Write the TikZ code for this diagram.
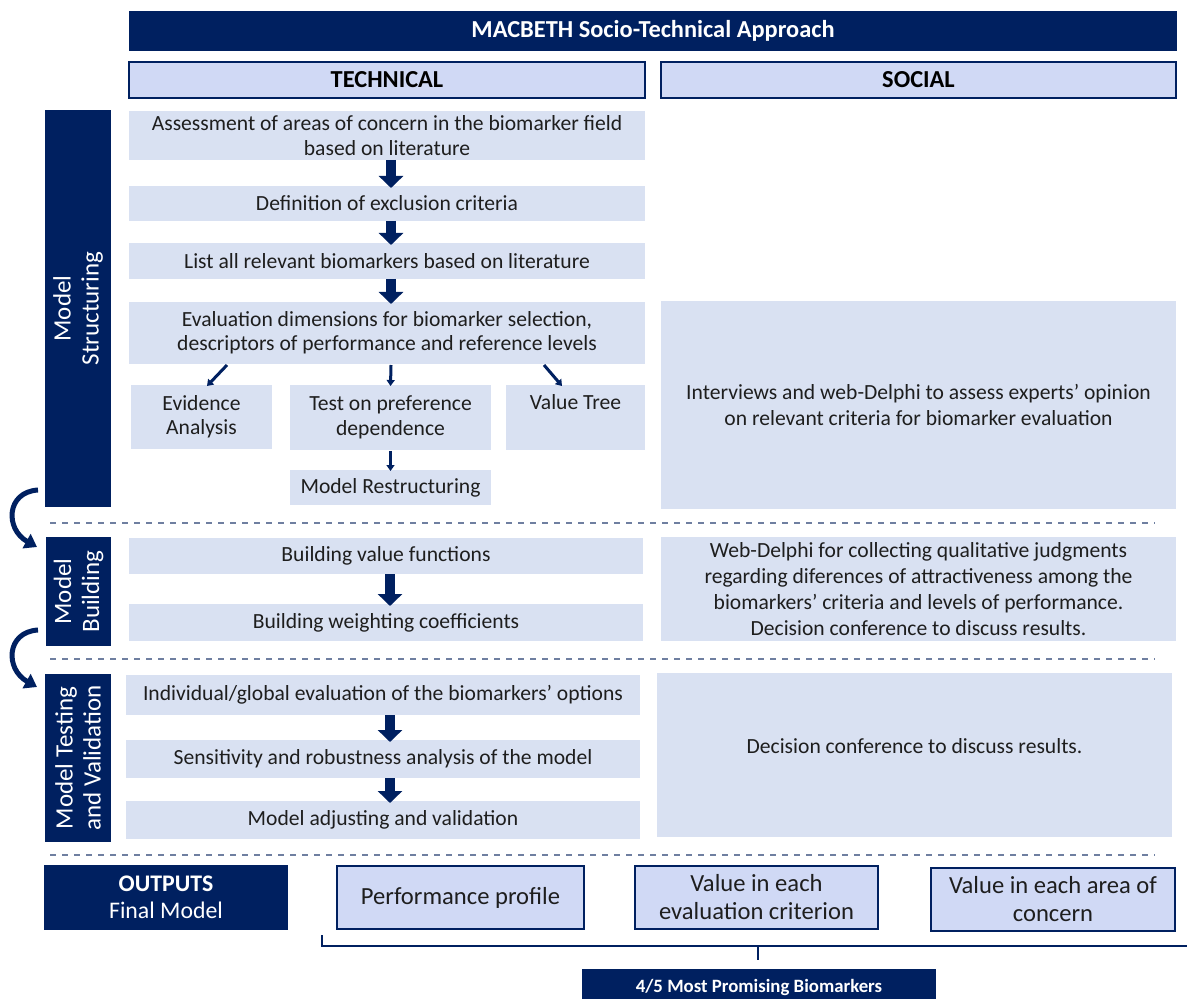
\documentclass[tikz,border=0pt]{standalone}
\usepackage{fontspec}
\setmainfont{Carlito}
\usetikzlibrary{arrows.meta,calc}
\definecolor{navy}{HTML}{002060}
\definecolor{cellfill}{HTML}{D9E1F2}
\definecolor{headfill}{HTML}{D0D9F5}
\definecolor{dashc}{HTML}{6F7FA0}
\definecolor{ink}{HTML}{1E1E1E}
% box from corner (x1,y1) to (x2,y2), in pixel-like units
\newcommand\pbox[7]{%
  \pgfmathsetmacro\bcx{(#3+#5)/2}\pgfmathsetmacro\bcy{(#4+#6)/2}%
  \pgfmathsetmacro\bww{(#5-#3)*0.5}\pgfmathsetmacro\bhh{(#6-#4)*0.5}%
  \node[#2, minimum width=\bww pt, minimum height=\bhh pt] (#1) at (\bcx,\bcy) {#7};}
\begin{document}
\begin{tikzpicture}[x=0.5pt,y=-0.5pt,
  every node/.style={inner sep=0pt, outer sep=0pt, align=center},
  cell/.style={fill=cellfill, text=ink, font=\fontsize{10.8}{12.2}\selectfont},
  soc/.style={fill=cellfill, text=ink, font=\fontsize{10.8}{13}\selectfont},
  head/.style={fill=headfill, draw=navy, line width=1pt, text=black, font=\bfseries\fontsize{12.2}{14}\selectfont},
  title/.style={fill=navy, text=white, font=\bfseries\fontsize{12.2}{14}\selectfont},
  phase/.style={fill=navy},
  phaselabel/.style={rotate=90, text=white, font=\fontsize{12.5}{14}\selectfont},
  outbox/.style={fill=headfill, draw=navy, line width=1.2pt, text=ink, font=\fontsize{12.3}{14}\selectfont},
  outdark/.style={fill=navy, text=white, font=\fontsize{11.9}{13.5}\selectfont},
  flow/.style={navy, line width=5pt, -{Triangle[width=12pt,length=6pt]}},
  link/.style={navy, line width=1.5pt, -{Triangle[width=4pt,length=3pt]}},
  bendarrow/.style={navy, line width=2.5pt, -{Triangle[width=8pt,length=6pt]}},
  sep/.style={dashc, line width=0.6pt, dash pattern=on 3pt off 3pt},
  brace/.style={navy, line width=1pt}]
\useasboundingbox (0,0) rectangle (1187,999);

% header
\pbox{title}{title}{129}{11}{1177}{51}{MACBETH Socio-Technical Approach}
\pbox{tech}{head}{129}{62}{645}{98}{TECHNICAL}
\pbox{social}{head}{661}{62}{1176}{98}{SOCIAL}

% phase bars
\pbox{ms}{phase}{45}{110}{111}{507}{}
\node[phaselabel] at (ms.center) {Model\\Structuring};
\pbox{mb}{phase}{46}{537}{111}{646}{}
\node[phaselabel] at (mb.center) {Model\\Building};
\pbox{mt}{phase}{45}{674}{111}{842}{}
\node[phaselabel] at (mt.center) {Model Testing\\and Validation};

% model structuring
\pbox{t1}{cell}{129}{111}{645}{160}{Assessment of areas of concern in the biomarker field\\based on literature}
\pbox{t2}{cell}{129}{186}{645}{221}{Definition of exclusion criteria}
\pbox{t3}{cell}{129}{243}{645}{279}{List all relevant biomarkers based on literature}
\pbox{t4}{cell}{129}{302}{645}{364}{Evaluation dimensions for biomarker selection,\\descriptors of performance and reference levels}
\pbox{ea}{cell}{131}{385}{272}{449}{Evidence\\Analysis}
\pbox{tp}{cell}{290}{385}{491}{450}{Test on preference\\dependence}
\pbox{vt}{cell}{506}{385}{645}{450}{Value Tree\\\strut}
\pbox{mr}{cell}{290}{470}{491}{505}{Model Restructuring}
\pbox{s1}{soc}{661}{301}{1176}{509}{Interviews and web-Delphi to assess experts’ opinion\\on relevant criteria for biomarker evaluation}

\draw[flow] ($(t1.south)+(4,0)$) -- ($(t2.north)+(4,2)$);
\draw[flow] ($(t2.south)+(4,0)$) -- ($(t3.north)+(4,2)$);
\draw[flow] ($(t3.south)+(4,0)$) -- ($(t4.north)+(4,2)$);
\draw[link] ($(t4.south west)+(98,1)$) -- ($(ea.north west)+(76,1)$);
\draw[link] ($(t4.south west)+(262,1)$) -- ($(tp.north)+(0,1)$);
\draw[link] ($(t4.south west)+(415,1)$) -- ($(vt.north west)+(56,1)$);
\draw[link] ($(tp.south)+(0,1)$) -- ($(mr.north)+(0,1)$);

\draw[sep] (50,523) -- (1155,523);

% model building
\pbox{b1}{cell}{129}{538}{643}{574}{Building value functions}
\pbox{b2}{cell}{129}{604}{643}{641}{Building weighting coefficients}
\pbox{s2}{soc}{661}{537}{1176}{641}{Web-Delphi for collecting qualitative judgments\\regarding diferences of attractiveness among the\\biomarkers’ criteria and levels of performance.\\Decision conference to discuss results.}
\draw[flow] ($(b1.south)+(4,0)$) -- ($(b2.north)+(4,2)$);

\draw[sep] (50,659) -- (1155,659);

% model testing and validation
\pbox{v1}{cell}{126}{675}{640}{715}{Individual/global evaluation of the biomarkers’ options}
\pbox{v2}{cell}{126}{740}{640}{778}{Sensitivity and robustness analysis of the model}
\pbox{v3}{cell}{126}{801}{640}{839}{Model adjusting and validation}
\pbox{s3}{soc}{657}{673}{1172}{837}{\raisebox{4.5pt}[\height][\depth]{Decision conference to discuss results.}}
\draw[flow] ($(v1.south)+(7,0)$) -- ($(v2.north)+(7,2)$);
\draw[flow] ($(v2.south)+(7,0)$) -- ($(v3.north)+(7,2)$);

% phase transitions
\coordinate (c1s) at ($(ms.south west)+(-7,-17)$);
\coordinate (c1e) at ($(mb.north west)+(-9,10)$);
\draw[bendarrow] (c1s) .. controls ($(c1s)+(-32,2)$) and ($(c1e)+(-32,-18)$) .. (c1e);
\coordinate (c2s) at ($(mb.south west)+(-8,-16)$);
\coordinate (c2e) at ($(mt.north west)+(-8,13)$);
\draw[bendarrow] (c2s) .. controls ($(c2s)+(-32,2)$) and ($(c2e)+(-32,-18)$) .. (c2e);

\draw[sep] (50,855) -- (1155,855);

% outputs
\pbox{out}{outdark}{44}{865}{288}{930}{\textbf{OUTPUTS}\\Final Model}
\pbox{o1}{outbox}{337}{866}{584}{929}{Performance profile}
\pbox{o2}{outbox}{635}{866}{878}{929}{Value in each\\evaluation criterion}
\pbox{o3}{outbox}{931}{868}{1175}{931}{Value in each area of\\concern}

\coordinate (bl) at ($(o1.south west)+(-15,6)$);
\coordinate (bm) at ($(o2.south)+(1,31)$);
\coordinate (br) at (1187,946);
\draw[brace] (bl) -- (bl|-br) -- (br);
\draw[brace] (bm|-br) -- (bm);
\pbox{best}{title}{582}{969}{936}{1005}{\fontsize{9.4}{11}\selectfont 4/5 Most Promising Biomarkers}
\end{tikzpicture}
\end{document}
